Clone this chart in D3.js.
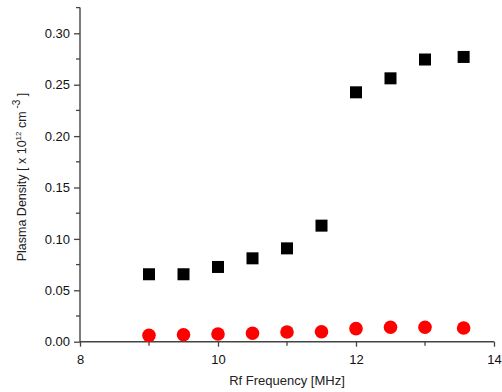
<html>
<head>
<script src="https://d3js.org/d3.v7.min.js"></script>
<style>
  body { margin: 0; background: #fff; }
  svg { font-family: "Liberation Sans", Arial, sans-serif; }
</style>
</head>
<body>
<svg id="chart" width="502" height="392"></svg>
<script>
// rf frequency in MHz
const freq = [9, 9.5, 10, 10.5, 11, 11.5, 12, 12.5, 13, 13.56];
// plasma density, x10^12 cm^-3
const densitySquares = [0.0656, 0.0656, 0.0727, 0.0811, 0.0908, 0.1129, 0.2426, 0.2562, 0.2745, 0.2770];
const densityCircles = [0.0062, 0.0068, 0.0075, 0.0082, 0.0094, 0.0097, 0.0127, 0.0140, 0.0140, 0.0133];
const xTicks = [8, 10, 12, 14];
const yTicks = [0, 0.05, 0.10, 0.15, 0.20, 0.25, 0.30];

const svg = d3.select("#chart");
const x = d3.scaleLinear().domain([8, 14]).range([80, 494]);
const y = d3.scaleLinear().domain([0, 0.325]).range([341.7, 7.6]);

const axisColor = "#444";

// y axis
const yAxis = svg.append("g").attr("transform", "translate(80,0)")
    .call(d3.axisLeft(y).tickValues(yTicks).tickFormat(d3.format(".2f")).tickSize(6).tickPadding(4));
yAxis.select(".domain").attr("d", `M0,${y(0.325)}V${y(0)}`).attr("stroke", axisColor).attr("stroke-width", 1.4);
yAxis.selectAll(".tick line").attr("stroke", axisColor).attr("stroke-width", 1.3);
yAxis.selectAll("text").attr("font-size", 13).attr("fill", "#111");

// minor y ticks
svg.append("g").selectAll("line")
    .data(d3.range(0.025, 0.33, 0.05))
    .join("line")
    .attr("x1", 76).attr("x2", 80)
    .attr("y1", d => y(d)).attr("y2", d => y(d))
    .attr("stroke", axisColor).attr("stroke-width", 1.3);

// x axis
const xAxis = svg.append("g").attr("transform", `translate(0,${y(0)})`)
    .call(d3.axisBottom(x).tickValues(xTicks).tickFormat(d3.format("d")).tickSize(5).tickPadding(8));
xAxis.select(".domain").attr("d", `M${x(8)},0H${x(14)}`).attr("stroke", axisColor).attr("stroke-width", 1.4);
xAxis.selectAll(".tick line").attr("stroke", axisColor).attr("stroke-width", 1.3);
xAxis.selectAll("text").attr("font-size", 13).attr("fill", "#111");

// minor x ticks
svg.append("g").selectAll("line")
    .data([9, 11, 13])
    .join("line")
    .attr("x1", d => x(d)).attr("x2", d => x(d))
    .attr("y1", y(0)).attr("y2", y(0) + 4)
    .attr("stroke", axisColor).attr("stroke-width", 1.3);

// axis titles
svg.append("text")
    .attr("x", 287).attr("y", 385)
    .attr("text-anchor", "middle")
    .attr("font-size", 13).attr("fill", "#222")
    .text("Rf Frequency [MHz]");

const yt = svg.append("text")
    .attr("transform", "translate(26,177) rotate(-90)")
    .attr("text-anchor", "middle")
    .attr("font-size", 12.5).attr("fill", "#222");
yt.append("tspan").text("Plasma Density [ x 10");
yt.append("tspan").attr("font-size", 8).attr("dy", -5).text("12");
yt.append("tspan").attr("dy", 5).text(" cm");
yt.append("tspan").attr("font-size", 10).attr("dy", -6).text(" -3");
yt.append("tspan").attr("dy", 6).text(" ]");

// squares
const sq = 12;
svg.append("g").selectAll("rect")
    .data(freq.map((f, i) => [f, densitySquares[i]]))
    .join("rect")
    .attr("x", d => x(d[0]) - sq / 2)
    .attr("y", d => y(d[1]) - sq / 2)
    .attr("width", sq).attr("height", sq)
    .attr("fill", "#000");

// circles
svg.append("g").selectAll("circle")
    .data(freq.map((f, i) => [f, densityCircles[i]]))
    .join("circle")
    .attr("cx", d => x(d[0]))
    .attr("cy", d => y(d[1]))
    .attr("r", 6.8)
    .attr("fill", "#ff0000");
</script>
</body>
</html>
